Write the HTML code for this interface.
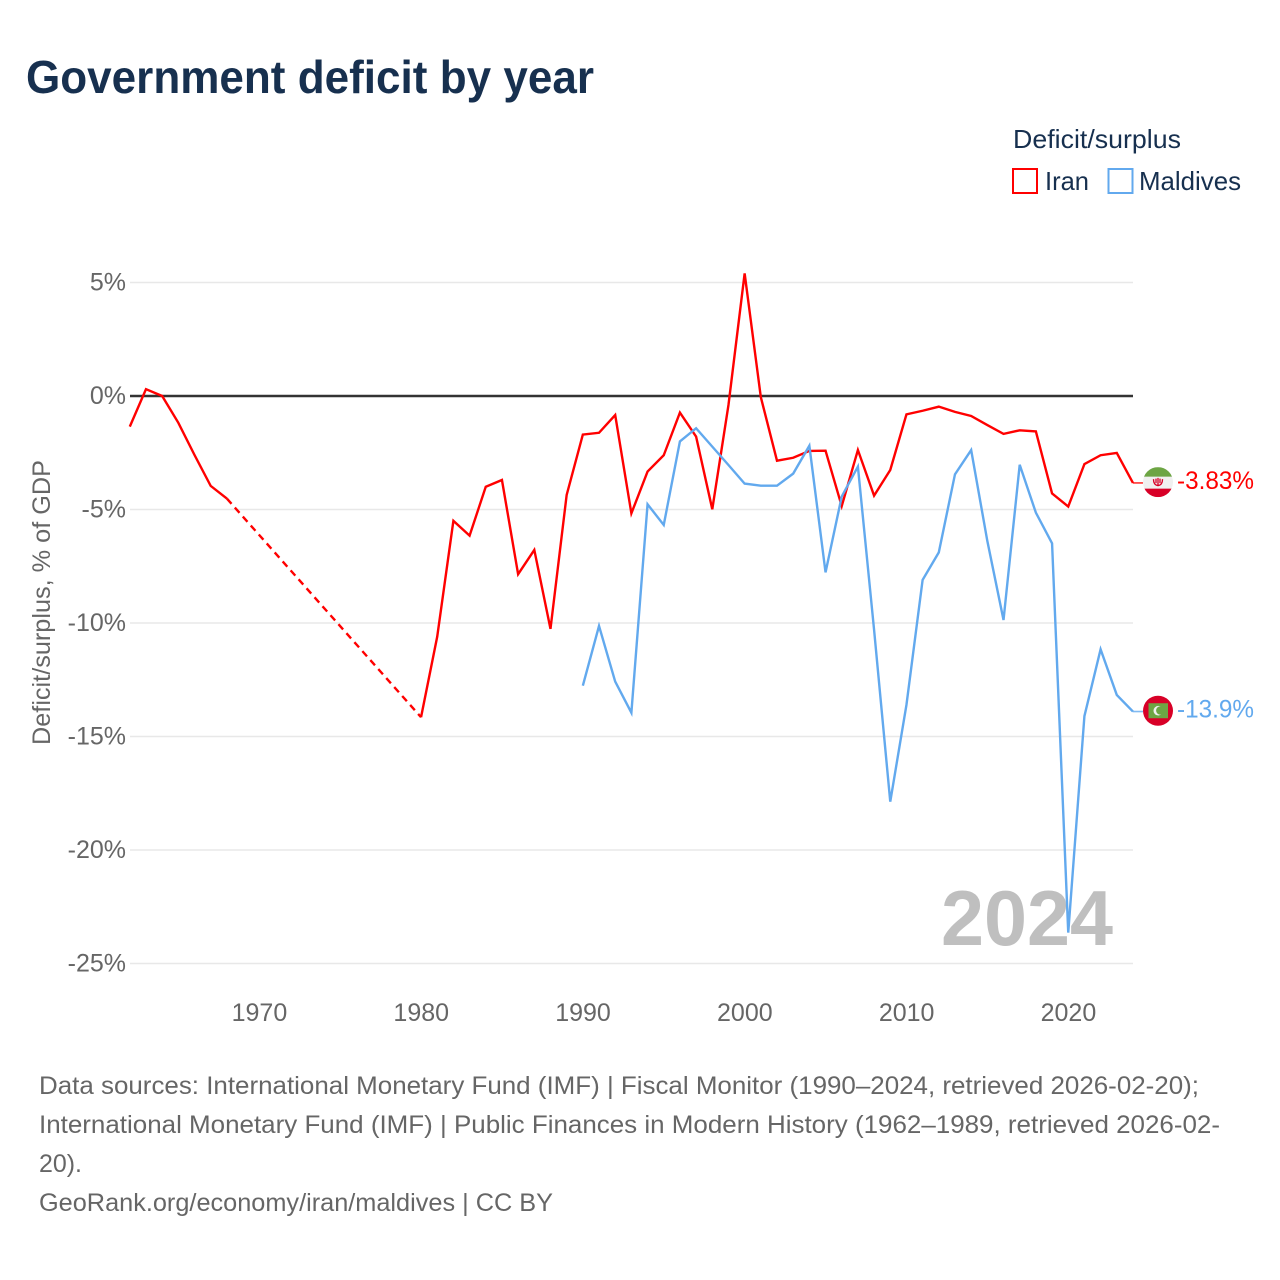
<!DOCTYPE html>
<html lang="en">
<head>
<meta charset="utf-8">
<title>Government deficit by year</title>
<style>
html,body{margin:0;padding:0;background:#fff;}
svg{display:block;font-family:"Liberation Sans",sans-serif;}
</style>
</head>
<body>
<svg id="chart" xmlns="http://www.w3.org/2000/svg" width="1280" height="1280" viewBox="0 0 1280 1280">
  <rect x="0" y="0" width="1280" height="1280" fill="#ffffff"/>
  <text x="26" y="93" font-size="46" font-weight="700" fill="#17304f" textLength="568" lengthAdjust="spacingAndGlyphs">Government deficit by year</text>

  <g>
    <text x="1013" y="148" font-size="26" fill="#17304f" textLength="168" lengthAdjust="spacingAndGlyphs">Deficit/surplus</text>
    <g>
      <rect x="1013" y="169" width="24" height="24" fill="none" stroke="#ff0000" stroke-width="2"/>
      <text x="1045" y="190" font-size="26" fill="#17304f" textLength="44" lengthAdjust="spacingAndGlyphs">Iran</text>
    </g>
    <g>
      <rect x="1108.5" y="169" width="24" height="24" fill="none" stroke="#62a9ee" stroke-width="2"/>
      <text x="1139" y="190" font-size="26" fill="#17304f" textLength="102" lengthAdjust="spacingAndGlyphs">Maldives</text>
    </g>
  </g>

  <g id="grid"></g>
  <g id="yticks"></g>
  <g id="xticks"></g>
  <text transform="translate(50,745) rotate(-90)" x="0" y="0" font-size="25" fill="#666666" textLength="285" lengthAdjust="spacingAndGlyphs">Deficit/surplus, % of GDP</text>

  <text x="941" y="945" font-size="78" font-weight="700" fill="#bfbfbf" textLength="172" lengthAdjust="spacingAndGlyphs">2024</text>

  <g id="series"></g>

  <g id="flag-iran">
    <clipPath id="clip-iran"><circle cx="0" cy="0" r="15"/></clipPath>
    <g clip-path="url(#clip-iran)">
      <rect x="-15" y="-15" width="30" height="30" fill="#f0f0f0"/>
      <rect x="-15" y="-15" width="30" height="9.5" fill="#6da544"/>
      <rect x="-15" y="6.5" width="30" height="8.5" fill="#d80027"/>
      <path d="M-4.5,-3 Q-4.5,3 0,3.4 Q4.5,3 4.5,-3 M0,-4.3 V3.4 M-2,-3.5 V1 M2,-3.5 V1" fill="none" stroke="#d80027" stroke-width="1.3"/>
    </g>
  </g>
  <g id="flag-maldives">
    <circle cx="0" cy="0" r="15" fill="#d80027"/>
    <rect x="-9.5" y="-7.5" width="19.5" height="15" fill="#6da544"/>
    <circle cx="0.3" cy="0" r="4.8" fill="#f0f0f0"/>
    <circle cx="2.3" cy="-0.2" r="4.2" fill="#6da544"/>
  </g>
  <g id="end-labels"></g>

  <g font-size="25" fill="#666666">
    <text x="39" y="1094" textLength="1160" lengthAdjust="spacingAndGlyphs">Data sources: International Monetary Fund (IMF) | Fiscal Monitor (1990–2024, retrieved 2026-02-20);</text>
    <text x="39" y="1133" textLength="1181" lengthAdjust="spacingAndGlyphs">International Monetary Fund (IMF) | Public Finances in Modern History (1962–1989, retrieved 2026-02-</text>
    <text x="39" y="1172" textLength="43" lengthAdjust="spacingAndGlyphs">20).</text>
    <text x="39" y="1211" textLength="514" lengthAdjust="spacingAndGlyphs">GeoRank.org/economy/iran/maldives | CC BY</text>
  </g>
</svg>
<script>
var yTickValues = [5, 0, -5, -10, -15, -20, -25];
var yTickLabels = ["5%", "0%", "-5%", "-10%", "-15%", "-20%", "-25%"];
var xTickValues = [1970, 1980, 1990, 2000, 2010, 2020];
var xTickLabels = ["1970", "1980", "1990", "2000", "2010", "2020"];
var iranStartYear = 1962;
var iranValues = [
  -1.35, 0.3, 0, -1.18, -2.6, -3.96, -4.52,
  null, null, null, null, null, null, null, null, null, null, null,
  -14.15, -10.6, -5.5, -6.15, -4.0, -3.7, -7.85, -6.78, -10.26, -4.36,
  -1.7, -1.62, -0.84, -5.17, -3.33, -2.61, -0.73, -1.79, -4.99, -0.4,
  5.4, -0.05, -2.85, -2.72, -2.42, -2.41, -4.85, -2.38, -4.39, -3.26,
  -0.81, -0.65, -0.47, -0.7, -0.88, -1.28, -1.67, -1.51, -1.56, -4.29,
  -4.87, -3.0, -2.61, -2.51, -3.83
];
var maldivesStartYear = 1990;
var maldivesValues = [
  -12.76, -10.13, -12.58, -13.95, -4.77, -5.68, -2.0, -1.42, -2.23, -3.04,
  -3.86, -3.95, -3.95, -3.42, -2.19, -7.77, -4.43, -3.11, -10.3, -17.87,
  -13.61, -8.1, -6.89, -3.45, -2.38, -6.39, -9.87, -3.03, -5.14, -6.49,
  -23.64, -14.1, -11.16, -13.17, -13.9
];
var iranEndLabel = "-3.83%";
var maldivesEndLabel = "-13.9%";

var NS = "http://www.w3.org/2000/svg";
var RED = "#ff0000";
var BLUE = "#62a9ee";
function xScale(year) { return 129.8 + (year - 1962) * 16.18; }
function yScale(value) { return 396 - value * 22.7; }
function make(tag, attrs, parent) {
  var el = document.createElementNS(NS, tag);
  for (var k in attrs) { el.setAttribute(k, attrs[k]); }
  parent.appendChild(el);
  return el;
}

var grid = document.getElementById("grid");
var yticks = document.getElementById("yticks");
yTickValues.forEach(function (v, i) {
  var line = make("line", {
    x1: 130, x2: 1133, y1: yScale(v), y2: yScale(v),
    stroke: v === 0 ? "#333333" : "#e8e8e8",
    "stroke-width": v === 0 ? 2.4 : 1.6
  }, grid);
  
  
  var t = make("text", {
    x: 126, y: yScale(v) + 8, "text-anchor": "end", "font-size": 25, fill: "#666666"
  }, yticks);
  t.textContent = yTickLabels[i];
  
  
});

var xticks = document.getElementById("xticks");
xTickValues.forEach(function (v, i) {
  var t = make("text", {
    x: xScale(v) + 0.2, y: 1021, "text-anchor": "middle", "font-size": 25, fill: "#666666"
  }, xticks);
  t.textContent = xTickLabels[i];
  
  
});

var seriesGroup = document.getElementById("series");
function drawSeries(values, startYear, color, name) {
  var run = [];
  var lastPoint = null;
  var pendingGap = false;
  function flush() {
    if (run.length > 1) {
      var line = make("polyline", {
        points: run.join(" "), fill: "none", stroke: color,
        "stroke-width": 2.4, "stroke-linejoin": "miter"
      }, seriesGroup);
      
      
    }
    run = [];
  }
  values.forEach(function (v, i) {
    if (v === null) {
      if (!pendingGap) { flush(); pendingGap = true; }
      return;
    }
    var px = xScale(startYear + i);
    var py = yScale(v);
    if (pendingGap && lastPoint) {
      var gap = make("line", {
        x1: lastPoint[0], y1: lastPoint[1], x2: px, y2: py,
        stroke: color, "stroke-width": 2.4, "stroke-dasharray": "7,5"
      }, seriesGroup);
      
      
      pendingGap = false;
    }
    run.push(px + "," + py);
    lastPoint = [px, py];
  });
  flush();
  return lastPoint;
}

var endLabels = document.getElementById("end-labels");
function drawEnd(point, color, label, flagId, name) {
  var connector = make("line", {
    x1: point[0], y1: point[1], x2: point[0] + 10, y2: point[1],
    stroke: color, "stroke-width": 1.6, opacity: 0.8
  }, seriesGroup);
  
  
  document.getElementById(flagId).setAttribute("transform", "translate(1158," + (point[1] - 0.8) + ")");
  var t = make("text", {
    x: 1177, y: point[1] + 6, "font-size": 25, fill: color, textLength: 77, lengthAdjust: "spacingAndGlyphs"
  }, endLabels);
  t.textContent = label;
  
  
}

var iranEnd = drawSeries(iranValues, iranStartYear, RED, "iran");
var maldivesEnd = drawSeries(maldivesValues, maldivesStartYear, BLUE, "maldives");
drawEnd(iranEnd, RED, iranEndLabel, "flag-iran", "iran");
drawEnd(maldivesEnd, BLUE, maldivesEndLabel, "flag-maldives", "maldives");
</script>
</body>
</html>
